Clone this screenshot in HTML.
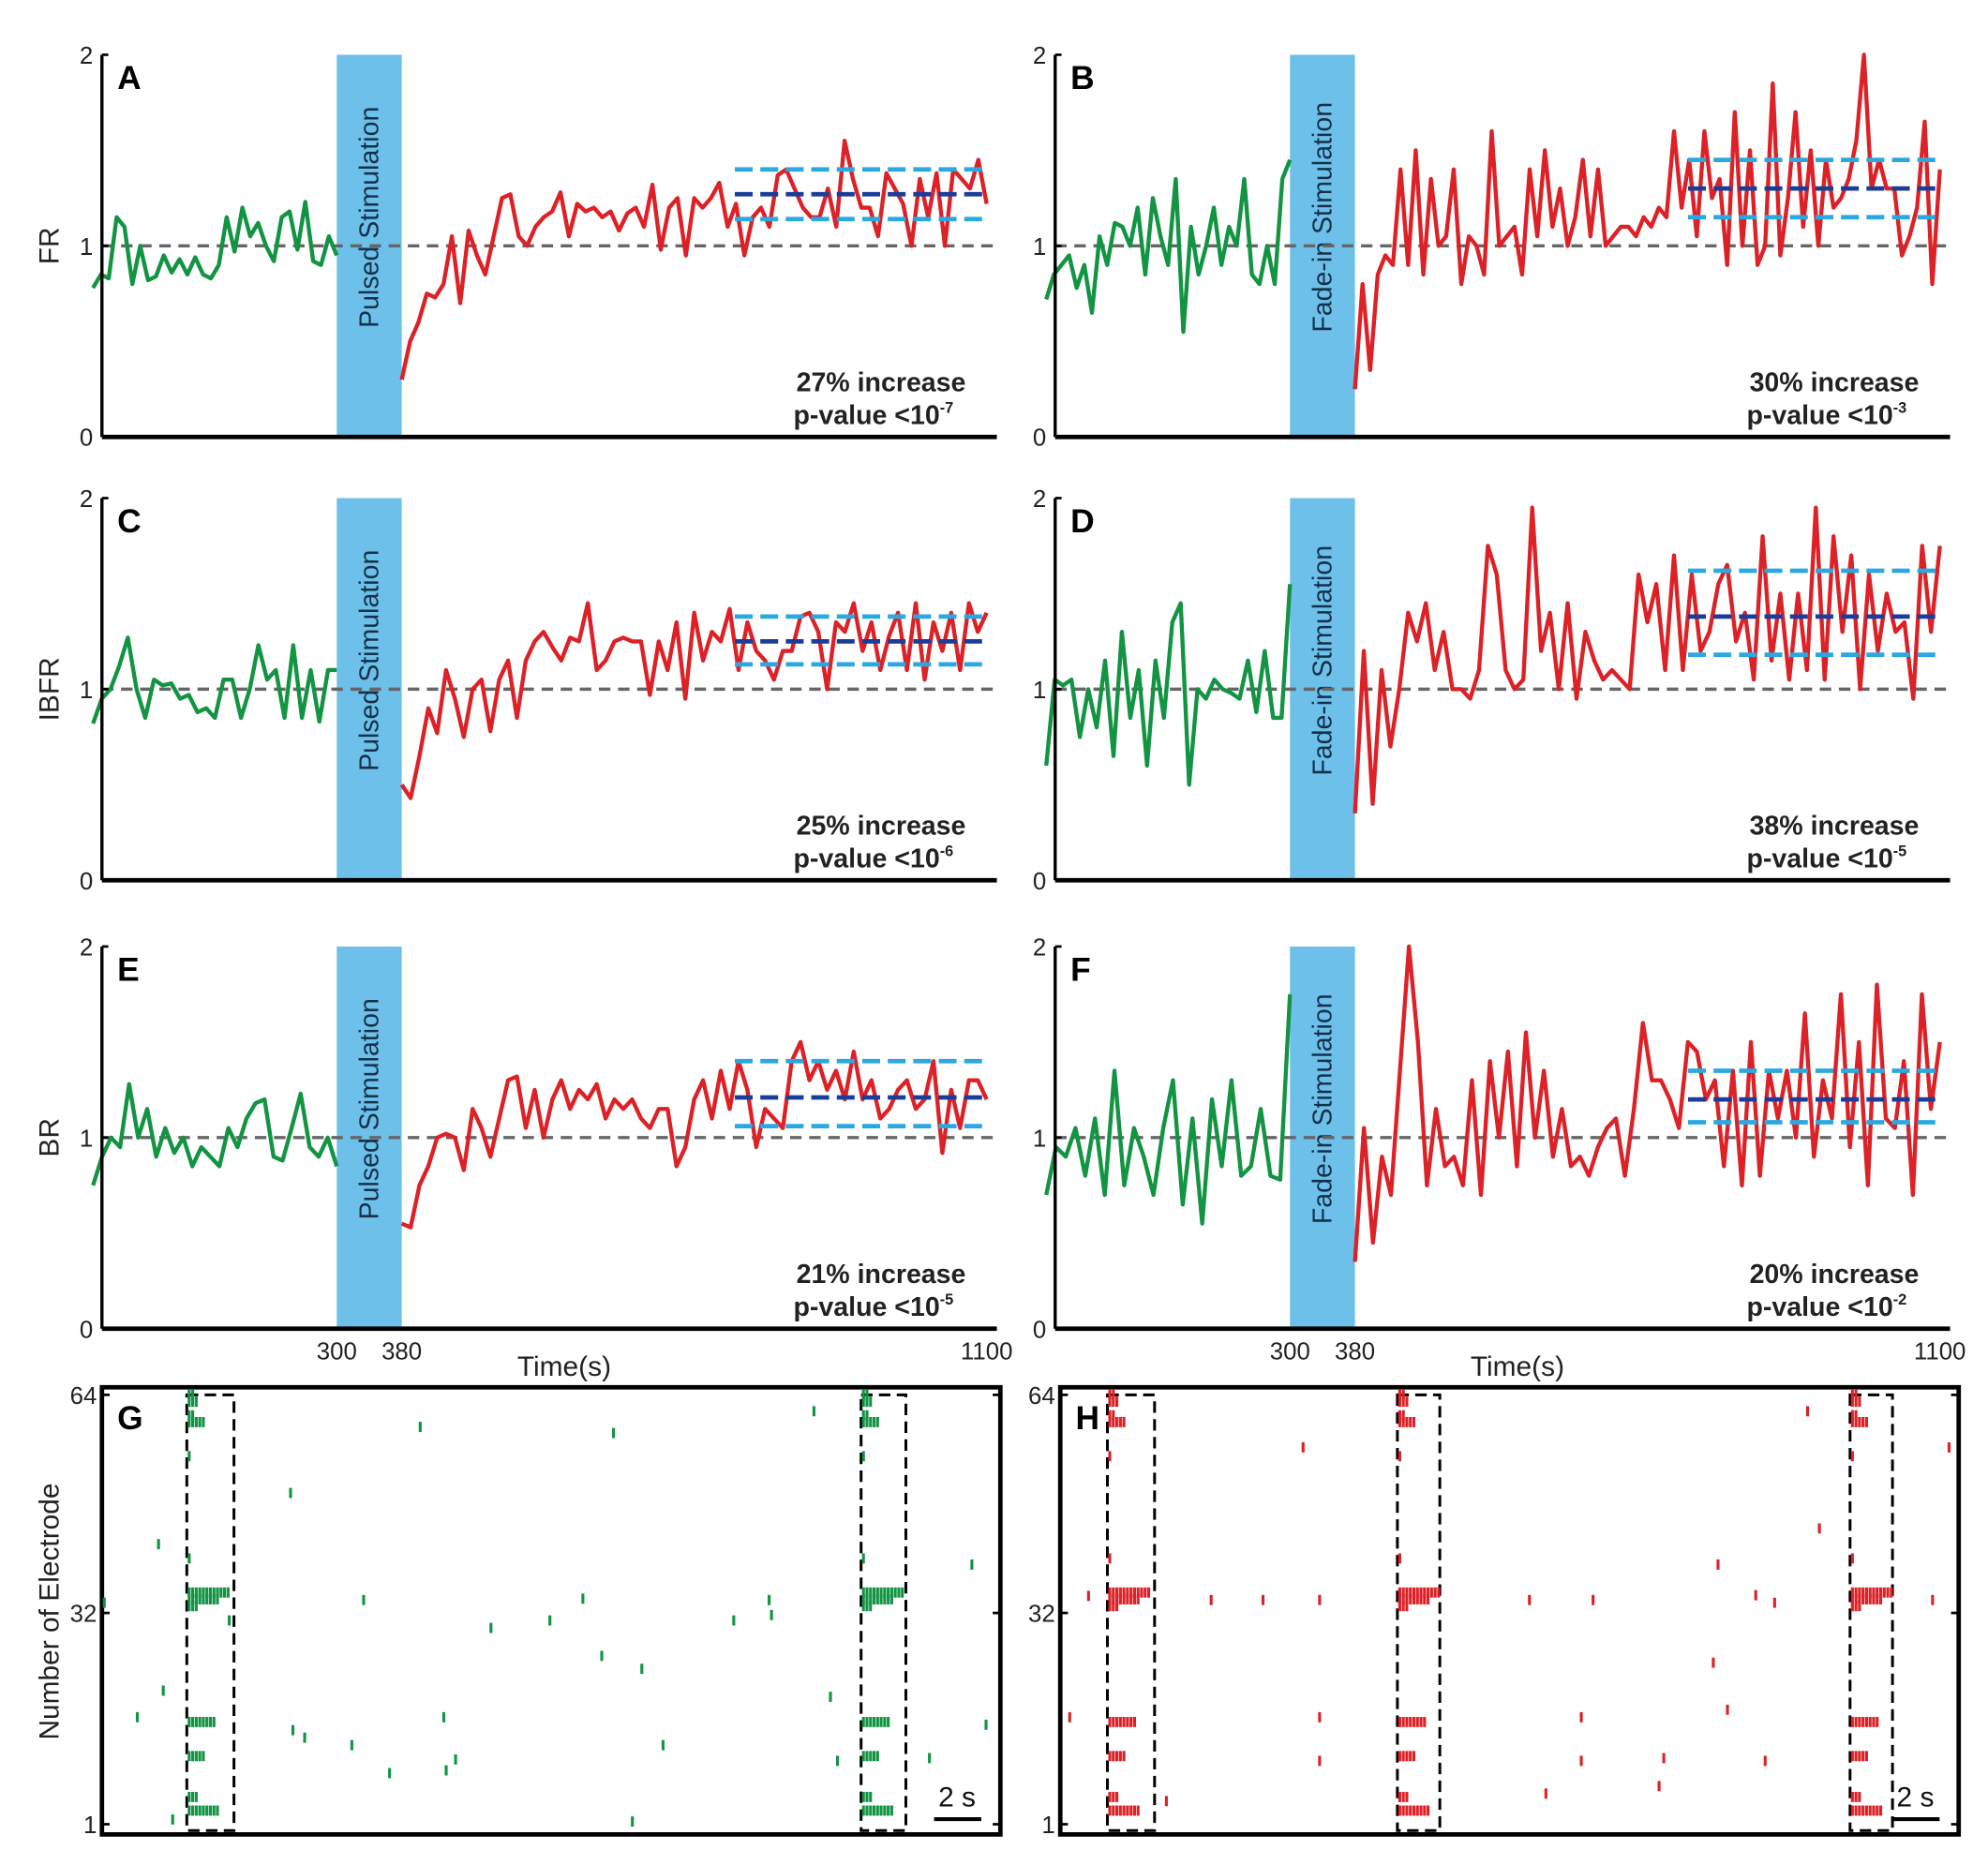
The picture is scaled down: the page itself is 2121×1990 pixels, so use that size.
<!DOCTYPE html>
<html><head><meta charset="utf-8"><style>
html,body{margin:0;padding:0;background:#fff;}
svg{display:block;font-family:"Liberation Sans",Arial,sans-serif;}
</style></head><body>
<svg id="fig" width="2121" height="1990" viewBox="0 0 1560 1464" preserveAspectRatio="none" xmlns="http://www.w3.org/2000/svg"></svg>
<script>
// ---- data ----
const greenA=[0.78,0.85,0.83,1.15,1.1,0.8,1.0,0.82,0.84,0.95,0.86,0.93,0.85,0.94,0.85,0.83,0.9,1.15,0.97,1.2,1.05,1.12,1.0,0.92,1.15,1.18,0.98,1.23,0.92,0.9,1.05,0.95];
const redA=[0.3,0.5,0.6,0.75,0.73,0.8,1.05,0.7,1.08,0.95,0.85,1.05,1.25,1.27,1.05,1.0,1.1,1.15,1.18,1.28,1.05,1.22,1.18,1.2,1.15,1.18,1.08,1.17,1.2,1.1,1.32,0.98,1.2,1.25,0.95,1.25,1.2,1.25,1.33,1.1,1.22,0.95,1.15,1.2,1.1,1.37,1.4,1.3,1.2,1.15,1.15,1.3,1.1,1.55,1.35,1.2,1.2,1.05,1.38,1.3,1.22,1.0,1.35,1.15,1.38,1.0,1.4,1.35,1.3,1.45,1.22];
const bandsA=[1.40,1.27,1.14];
const greenB=[0.72,0.85,0.9,0.95,0.78,0.9,0.65,1.05,0.9,1.12,1.1,1.0,1.2,0.85,1.25,1.05,0.9,1.35,0.55,1.1,0.85,1.0,1.2,0.9,1.1,1.0,1.35,0.85,0.8,1.0,0.8,1.35,1.45];
const redB=[0.25,0.8,0.35,0.85,0.95,0.9,1.4,0.9,1.5,0.85,1.35,1.0,1.05,1.4,0.8,1.05,1.0,0.85,1.6,1.0,1.05,1.1,0.85,1.4,1.05,1.5,1.1,1.3,1.0,1.15,1.45,1.05,1.4,1.0,1.05,1.1,1.1,1.05,1.15,1.1,1.2,1.15,1.6,1.2,1.45,1.05,1.6,1.25,1.35,0.9,1.7,1.0,1.5,0.9,1.0,1.85,0.95,1.25,1.7,1.1,1.5,1.0,1.45,1.2,1.25,1.35,1.55,2.0,1.3,1.45,1.3,1.3,0.95,1.05,1.2,1.65,0.8,1.4];
const bandsB=[1.45,1.30,1.15];
const greenC=[0.82,0.95,1.0,1.12,1.27,1.0,0.85,1.05,1.02,1.03,0.95,0.97,0.88,0.9,0.85,1.05,1.05,0.85,1.0,1.23,1.05,1.1,0.85,1.23,0.85,1.1,0.83,1.1,1.1];
const redC=[0.5,0.43,0.65,0.9,0.77,1.1,0.95,0.75,1.0,1.05,0.78,1.05,1.15,0.85,1.15,1.25,1.3,1.22,1.15,1.27,1.25,1.45,1.1,1.15,1.25,1.27,1.25,1.25,0.97,1.25,1.1,1.35,0.95,1.4,1.15,1.3,1.25,1.42,1.1,1.35,1.2,1.15,1.05,1.2,1.2,1.38,1.4,1.3,1.0,1.35,1.3,1.45,1.2,1.35,1.1,1.28,1.4,1.1,1.45,1.05,1.35,1.2,1.4,1.1,1.45,1.3,1.4];
const bandsC=[1.38,1.25,1.13];
const greenD=[0.6,1.05,1.02,1.05,0.75,1.0,0.8,1.15,0.65,1.3,0.85,1.1,0.6,1.15,0.85,1.35,1.45,0.5,1.0,0.95,1.05,1.0,0.98,0.95,1.15,0.88,1.2,0.85,0.85,1.55];
const redD=[0.35,1.2,0.4,1.1,0.7,1.0,1.4,1.25,1.45,1.1,1.3,1.0,1.0,0.95,1.1,1.75,1.6,1.1,1.0,1.05,1.95,1.2,1.4,1.0,1.45,0.95,1.3,1.15,1.05,1.1,1.05,1.0,1.6,1.35,1.55,1.1,1.7,1.1,1.6,1.2,1.3,1.55,1.65,1.25,1.4,1.05,1.8,1.15,1.5,1.05,1.5,1.1,1.95,1.05,1.8,1.3,1.7,1.0,1.6,1.2,1.5,1.3,1.35,0.95,1.75,1.3,1.75];
const bandsD=[1.62,1.38,1.18];
const greenE=[0.75,0.9,1.0,0.95,1.28,1.0,1.15,0.9,1.05,0.92,1.0,0.85,0.95,0.9,0.85,1.05,0.95,1.1,1.18,1.2,0.9,0.88,1.05,1.23,0.95,0.9,1.0,0.85];
const redE=[0.55,0.53,0.75,0.85,1.0,1.02,1.0,0.83,1.15,1.05,0.9,1.1,1.3,1.32,1.05,1.25,1.0,1.2,1.3,1.15,1.25,1.2,1.28,1.1,1.2,1.15,1.2,1.1,1.05,1.15,1.15,0.85,0.95,1.2,1.3,1.1,1.35,1.15,1.4,1.25,0.95,1.15,1.1,1.05,1.4,1.5,1.3,1.4,1.25,1.35,1.2,1.45,1.2,1.3,1.1,1.15,1.25,1.3,1.15,1.2,1.4,0.92,1.25,1.05,1.3,1.3,1.2];
const bandsE=[1.40,1.21,1.06];
const greenF=[0.7,0.95,0.9,1.05,0.8,1.1,0.7,1.35,0.75,1.05,0.9,0.7,1.05,1.3,0.65,1.1,0.55,1.2,0.85,1.3,0.8,0.85,1.15,0.8,0.78,1.75];
const redF=[0.35,1.05,0.45,0.9,0.7,1.35,2.0,1.5,0.75,1.15,0.85,0.9,0.75,1.3,0.7,1.4,1.0,1.45,0.85,1.55,1.0,1.35,0.9,1.15,0.85,0.9,0.8,0.95,1.05,1.1,0.8,1.15,1.6,1.3,1.3,1.2,1.05,1.5,1.45,1.2,1.3,0.85,1.35,0.75,1.5,0.8,1.35,1.1,1.35,1.0,1.65,0.9,1.3,1.1,1.75,0.95,1.5,0.75,1.8,1.1,1.05,1.4,0.7,1.75,1.15,1.5];
const bandsF=[1.35,1.20,1.08];
const annotations=[["27% increase","-7"],["30% increase","-3"],["25% increase","-6"],["38% increase","-5"],["21% increase","-5"],["20% increase","-2"]];
const yTicks=[0,1,2];
const xTickLabels=[300,380,1100];
// raster data: [time (s), electrode]
const spikesG=[[13.5,59.3],[21.7,58.4],[30.2,61.6],[8.0,49.6],[2.4,42.1],[36.9,39.1],[0.1,33.5],[11.1,33.9],[20.4,34.1],[28.3,33.9],[16.5,29.8],[19.0,30.9],[26.8,30.9],[28.4,31.7],[21.2,25.7],[22.9,23.8],[2.6,20.6],[30.9,19.7],[1.5,16.7],[14.5,16.7],[37.5,15.6],[8.1,14.8],[8.6,13.7],[23.8,12.6],[10.6,12.6],[15.0,10.5],[14.6,8.9],[12.2,8.5],[31.2,10.3],[35.1,10.7],[3.0,1.7],[22.5,1.4],[5.4,30.9]];
const spikesH=[[31.7,61.6],[10.3,56.3],[37.7,56.3],[32.2,44.4],[27.9,39.1],[1.2,34.5],[6.4,33.9],[8.6,33.9],[11.0,33.9],[19.9,33.9],[22.6,33.9],[29.5,34.6],[30.3,33.5],[37.0,33.9],[27.7,24.7],[0.4,16.7],[11.0,16.7],[22.1,16.7],[28.3,17.8],[11.0,10.3],[22.1,10.3],[25.6,10.7],[29.9,10.3],[25.4,6.6],[20.6,5.5],[4.5,4.4]];
const burstsG=[[3.6,5.6],[32.2,34.1]];
const burstsH=[[2.0,4.0],[14.3,16.1],[33.5,35.3]];
const burstRows=[64,63,61,60,55,40,35,34,33,16,11,5,3];
const burstCounts=[2,3,2,5,1,1,12,9,3,8,5,3,9];

// ---- helpers ----
const NS="http://www.w3.org/2000/svg";
const svg=document.getElementById('fig');
function el(tag,attrs,parent){const e=document.createElementNS(NS,tag);for(const k in attrs)e.setAttribute(k,attrs[k]);(parent||svg).appendChild(e);return e;}
function txt(s,attrs,parent){const e=el('text',attrs,parent);e.textContent=s;return e;}

const panels=[
 {id:'A',ox:73,top:43,g:greenA,r:redA,b:bandsA,stim:'Pulsed  Stimulation',yl:'FR',ann:0},
 {id:'B',ox:821,top:43,g:greenB,r:redB,b:bandsB,stim:'Fade-in  Stimulation',yl:null,ann:1},
 {id:'C',ox:73,top:391,g:greenC,r:redC,b:bandsC,stim:'Pulsed  Stimulation',yl:'IBFR',ann:2},
 {id:'D',ox:821,top:391,g:greenD,r:redD,b:bandsD,stim:'Fade-in  Stimulation',yl:null,ann:3},
 {id:'E',ox:73,top:743,g:greenE,r:redE,b:bandsE,stim:'Pulsed  Stimulation',yl:'BR',ann:4,xt:true},
 {id:'F',ox:821,top:743,g:greenF,r:redF,b:bandsF,stim:'Fade-in  Stimulation',yl:null,ann:5,xt:true}
];
panels.forEach(p=>{
  const g=el('g',{});
  
  
  const xs=t=>p.ox+t*0.6375;
  const ys=v=>p.top+300-v*150;
  const x0=p.ox+7, x1=xs(1100)+8;
  const bar=el('rect',{x:xs(300),y:ys(2),width:xs(380)-xs(300),height:300,fill:'#6cc0ea'},g);
  
  
  const st=txt(p.stim,{x:0,y:0,transform:`translate(${(xs(300)+xs(380))/2+7},${ys(1.15)}) rotate(-90)`,'text-anchor':'middle','font-size':21,fill:'#15304a'},g);
  
  
  const bl=el('line',{x1:x0,x2:x1,y1:ys(1),y2:ys(1),stroke:'#666','stroke-width':2.5,'stroke-dasharray':'9,6'},g);
  
  
  const gp=p.g.map((v,i)=>[xs(i*300/(p.g.length-1)),ys(v)]);
  const gl=el('polyline',{points:gp.map(a=>a.join(',')).join(' '),fill:'none',stroke:'#129443','stroke-width':3.2,'stroke-linejoin':'round'},g);
  
  
  const rp=p.r.map((v,i)=>[xs(380+i*720/(p.r.length-1)),ys(v)]);
  const rl=el('polyline',{points:rp.map(a=>a.join(',')).join(' '),fill:'none',stroke:'#dc2127','stroke-width':3.2,'stroke-linejoin':'round'},g);
  
  
  p.b.forEach((v,i)=>{
    const l=el('line',{x1:xs(790),x2:xs(1100),y1:ys(v),y2:ys(v),stroke:i==1?'#1a3d9a':'#2aa9e0','stroke-width':3.5,'stroke-dasharray':'14,6'},g);
    
    
  });
  const ya=el('line',{x1:x0,x2:x0,y1:ys(2),y2:ys(0),stroke:'#000','stroke-width':2.5},g);
  
  
  const xa=el('line',{x1:x0,x2:x1,y1:ys(0),y2:ys(0),stroke:'#000','stroke-width':3.5},g);
  
  
  yTicks.forEach(v=>{
    el('line',{x1:x0,x2:x0+5,y1:ys(v),y2:ys(v),stroke:'#000','stroke-width':2},g);
    const t=txt(String(v),{x:x0-7,y:ys(v)+7,'text-anchor':'end','font-size':19,fill:'#222'},g);
    
    
  });
  const lt=txt(p.id,{x:x0+12,y:ys(2)+27,'font-size':26,'font-weight':'bold'},g);
  
  
  if(p.yl){const y=txt(p.yl,{x:0,y:0,transform:`translate(46,${ys(1)}) rotate(-90)`,'text-anchor':'middle','font-size':22,fill:'#222'},g);
    
    }
  const a=annotations[p.ann];
  const a1=txt(a[0],{x:xs(970),y:ys(0)-36,'text-anchor':'middle','font-size':21,'font-weight':'bold',fill:'#222'},g);
  
  
  const a2=txt('p-value <10',{x:xs(970)-6,y:ys(0)-10,'text-anchor':'middle','font-size':21,'font-weight':'bold',fill:'#222'},g);
  
  
  const ts=el('tspan',{dy:-9,'font-size':12},a2);ts.textContent=a[1];
  if(p.xt){
    xTickLabels.forEach(v=>{
      const t=txt(String(v),{x:xs(v),y:ys(0)+24,'text-anchor':'middle','font-size':19,fill:'#222'},g);
      
      
    });
    const xt=txt('Time(s)',{x:xs(580),y:ys(0)+37,'text-anchor':'middle','font-size':22,fill:'#222'},g);
    
    
  }
});

// ---- raster panels ----
[{id:'G',ox:80,sp:spikesG,bu:burstsG,col:'#129443'},{id:'H',ox:832,sp:spikesH,bu:burstsH,col:'#dc2127'}].forEach(r=>{
  const g=el('g',{});
  
  
  const xs=t=>r.ox+t*18.5;
  const ye=e=>1432-(e-1)*5.35;
  const fr=el('rect',{x:r.ox,y:1089,width:705,height:351,fill:'none',stroke:'#000','stroke-width':3.5},g);
  
  
  [[64,'64'],[32,'32'],[1,'1']].forEach(([e,l])=>{
    el('line',{x1:r.ox,x2:r.ox+6,y1:ye(e),y2:ye(e),stroke:'#000','stroke-width':2},g);
    el('line',{x1:r.ox+699,x2:r.ox+705,y1:ye(e),y2:ye(e),stroke:'#000','stroke-width':2},g);
    const t=txt(l,{x:r.ox-4,y:ye(e)+7,'text-anchor':'end','font-size':19,fill:'#222'},g);
    
    
  });
  r.bu.forEach(([s,e])=>{
    const b=el('rect',{x:xs(s),y:1095,width:xs(e)-xs(s),height:342,fill:'none',stroke:'#000','stroke-width':2.2,'stroke-dasharray':'9,5'},g);
    
    
    burstRows.forEach((row,i)=>{
      for(let k=0;k<burstCounts[i];k++){
        const t=s+0.1+k*0.15;
        const m=el('line',{x1:xs(t),x2:xs(t),y1:ye(row)-4,y2:ye(row)+4,stroke:r.col,'stroke-width':2.3},g);
        
        
      }
    });
  });
  r.sp.forEach(([t,e])=>{
    const m=el('line',{x1:xs(t),x2:xs(t),y1:ye(e)-4,y2:ye(e)+4,stroke:r.col,'stroke-width':2.3},g);
    
    
  });
  const lt=txt(r.id,{x:r.ox+12,y:1122,'font-size':26,'font-weight':'bold'},g);
  
  
  const sb=el('line',{x1:r.ox+653,x2:r.ox+690,y1:1428,y2:1428,stroke:'#000','stroke-width':3},g);
  
  
  const sl=txt('2 s',{x:r.ox+671,y:1418,'text-anchor':'middle','font-size':22,fill:'#111'},g);
  
  
});
const ylab=txt('Number of Electrode',{x:0,y:0,transform:'translate(46,1265) rotate(-90)','text-anchor':'middle','font-size':22,fill:'#222'});


</script>
</body></html>
